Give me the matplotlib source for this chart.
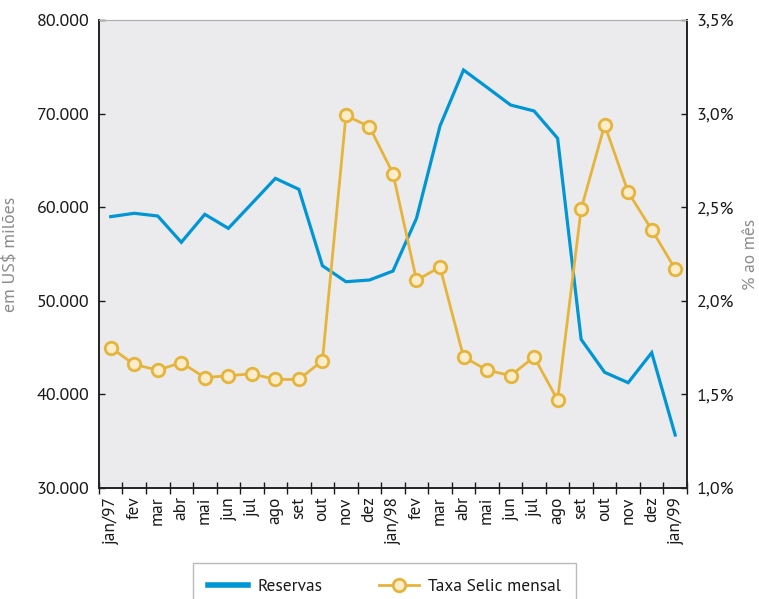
import matplotlib
matplotlib.use("Agg")
import matplotlib.pyplot as plt
from matplotlib.ticker import FuncFormatter, FixedLocator
from matplotlib.lines import Line2D

plt.rcParams['font.family'] = ['PT Sans', 'DejaVu Sans']
plt.rcParams['text.color'] = '#1a1a1a'
plt.rcParams['xtick.color'] = '#1a1a1a'
plt.rcParams['ytick.color'] = '#1a1a1a'

# Monthly labels, jan/97 to jan/99
meses = ['jan/97', 'fev', 'mar', 'abr', 'mai', 'jun', 'jul', 'ago', 'set', 'out', 'nov', 'dez',
         'jan/98', 'fev', 'mar', 'abr', 'mai', 'jun', 'jul', 'ago', 'set', 'out', 'nov', 'dez',
         'jan/99']

# International reserves, US$ million
reservas = [58990, 59350, 59060, 56250, 59240, 57740, 60400, 63080, 61910, 53750, 52040, 52220,
            53180, 58810, 68680, 74660, 72800, 70920, 70280, 67360, 45880, 42360, 41250, 44460,
            35660]

# Selic rate, % per month
selic = [1.75, 1.66, 1.63, 1.67, 1.59, 1.60, 1.61, 1.58, 1.58, 1.68, 2.99, 2.93,
         2.68, 2.11, 2.18, 1.70, 1.63, 1.60, 1.70, 1.47, 2.49, 2.94, 2.58, 2.38,
         2.17]

azul = '#0096d6'
laranja = '#e6b43a'
cinza = '#8c8c8c'

fig = plt.figure(figsize=(7.59, 5.99), dpi=100)
ax = fig.add_axes([0.1304, 0.1853, 0.7747, 0.7813])
ax.set_facecolor('#ebebed')

x = list(range(len(meses)))
ax.plot(x, reservas, color=azul, lw=2.3, solid_joinstyle='miter', zorder=3)
ax.set_xlim(-0.5, len(meses) - 0.5)
ax.set_ylim(30000, 80000)
ax.set_yticks(range(30000, 80001, 10000))
ax.yaxis.set_major_formatter(FuncFormatter(lambda v, p: f'{int(v):,}'.replace(',', '.')))
ax.tick_params(axis='y', direction='in', length=4, width=1, labelsize=13, pad=7)
ax.set_ylabel('em US$ milões', color=cinza, fontsize=13, labelpad=12)

# category labels centred, ticks on the boundaries between months
ax.set_xticks(x)
ax.set_xticklabels(meses, rotation=90, fontsize=12.5)
ax.tick_params(axis='x', which='major', length=0, pad=6)
ax.xaxis.set_minor_locator(FixedLocator([i - 0.5 for i in range(len(meses) + 1)]))
ax.tick_params(axis='x', which='minor', direction='inout', length=8, width=1)

ax2 = ax.twinx()
ax2.plot(x, selic, color=laranja, lw=2, marker='o', markersize=9,
         markerfacecolor='#fbeccb', markeredgecolor=laranja, markeredgewidth=2, zorder=4)
ax2.set_ylim(1.0, 3.5)
ax2.set_yticks([1.0, 1.5, 2.0, 2.5, 3.0, 3.5])
ax2.yaxis.set_major_formatter(FuncFormatter(lambda v, p: f'{v:.1f}%'.replace('.', ',')))
ax2.tick_params(axis='y', direction='in', length=4, width=1, labelsize=13, pad=7)
ax2.set_ylabel('% ao mês', color=cinza, fontsize=12.5, rotation=90, labelpad=6)

for a in (ax, ax2):
    a.spines['top'].set_color('#b0b0b0')
    for s in ('left', 'right', 'bottom'):
        a.spines[s].set_color('#222222')
        a.spines[s].set_linewidth(1.2)

handles = [
    Line2D([], [], color=azul, lw=4),
    Line2D([], [], color=laranja, lw=2, marker='o', markersize=9,
           markerfacecolor='#fbeccb', markeredgecolor=laranja, markeredgewidth=2),
]
leg = fig.legend(handles, ['Reservas', 'Taxa Selic mensal'], loc='upper left',
                 bbox_to_anchor=(0.254, 0.06), borderaxespad=0, ncol=2, frameon=True,
                 fancybox=False, fontsize=12.5, handlelength=2.3, columnspacing=3.3,
                 borderpad=0.9, handletextpad=0.5)
leg.get_frame().set_edgecolor('#aaaaaa')
leg.get_frame().set_linewidth(1)

fig.savefig('out.png', dpi=100)
